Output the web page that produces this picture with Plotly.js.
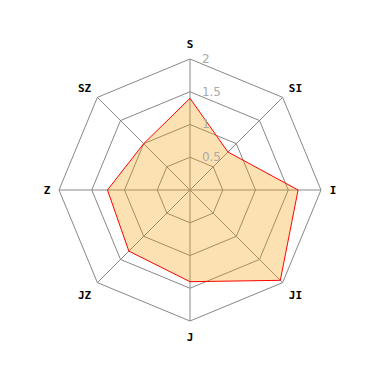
<!DOCTYPE html>
<html>
<head>
<meta charset="utf-8">
<script src="https://cdn.plot.ly/plotly-3.0.1.min.js"></script>
<style>html,body{margin:0;padding:0;background:#fff;}#chart{width:380px;height:380px;}</style>
</head>
<body>
<div id="chart"></div>
<script>
// Axis categories, clockwise from the top
const categories = ['S', 'SI', 'I', 'JI', 'J', 'JZ', 'Z', 'SZ'];
// Score on each axis
const values = [1.4, 0.82, 1.65, 1.95, 1.4, 1.32, 1.26, 1.0];
// Radial tick values
const radialTicks = [0.5, 1, 1.5, 2];

const trace = {
  type: 'scatterpolar',
  r: values.concat([values[0]]),
  theta: categories.concat([categories[0]]),
  mode: 'lines',
  fill: 'toself',
  fillcolor: 'rgba(245,158,0,0.3)',
  line: {color: '#ff0000', width: 1},
  hoverinfo: 'skip'
};

const layout = {
  width: 380,
  height: 380,
  margin: {l: 59, r: 59, t: 59, b: 59},
  paper_bgcolor: '#fff',
  showlegend: false,
  polar: {
    gridshape: 'linear',
    bgcolor: 'rgba(0,0,0,0)',
    domain: {x: [0, 1], y: [0, 1]},
    radialaxis: {
      range: [0, 2],
      tickvals: radialTicks,
      ticktext: radialTicks.map(String),
      angle: 90,
      tickangle: 90,
      showline: false,
      ticks: 'outside',
      ticklen: 9,
      tickcolor: 'rgba(0,0,0,0)',
      gridcolor: '#888',
      gridwidth: 1,
      tickfont: {family: 'DejaVu Sans', size: 12, color: '#aaa'}
    },
    angularaxis: {
      direction: 'clockwise',
      rotation: 90,
      categoryorder: 'array',
      categoryarray: categories,
      showline: true,
      linecolor: '#888',
      linewidth: 1,
      gridcolor: '#888',
      gridwidth: 1,
      ticks: 'outside',
      ticklen: 6,
      tickcolor: 'rgba(0,0,0,0)',
      tickfont: {family: 'DejaVu Sans Mono', size: 11, color: '#000', weight: 'bold'}
    }
  }
};

Plotly.newPlot('chart', [trace], layout, {displayModeBar: false, staticPlot: true});
</script>
</body>
</html>
